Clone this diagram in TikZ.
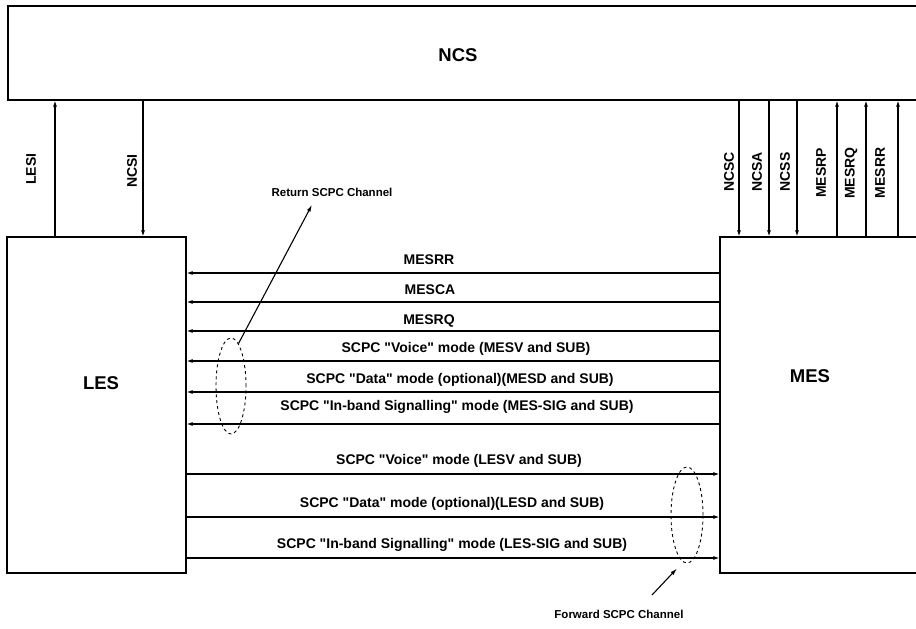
\documentclass[tikz,border=0pt]{standalone}
\usepackage{fontspec}
\setmainfont{Liberation Sans}
\usetikzlibrary{arrows.meta,shapes.geometric}
\tikzset{
  unitbox/.style={draw=black,line width=1.2pt,inner sep=0pt},
  unitname/.style={font=\bfseries\fontsize{18.5}{20}\selectfont},
  sigline/.style={-{Latex[length=6pt,width=4pt]},line width=1.1pt},
  siglabel/.style={anchor=base,inner sep=0pt,font=\bfseries\fontsize{14}{16}\selectfont},
  vlabel/.style={rotate=90,inner sep=0pt,font=\bfseries\fontsize{14}{16}\selectfont},
  chanring/.style={ellipse,draw,dashed,line width=0.9pt,inner sep=0pt},
  chanlabel/.style={font=\bfseries\fontsize{11.5}{14}\selectfont},
  pointer/.style={-{Latex[length=7pt,width=4pt]},line width=1.1pt}
}

\begin{document}
\begin{tikzpicture}[x=1pt,y=-1pt]
  \useasboundingbox (0,0) rectangle (916,629);
  % stations
  \node[unitbox,minimum width=932pt,minimum height=94pt] (NCS) at (474,53) {};
  \node[unitbox,minimum width=179pt,minimum height=336pt] (LES) at (96.5,405) {};
  \node[unitbox,minimum width=220pt,minimum height=336pt] (MES) at (830,405) {};
  \node[unitname] (NCSname) at (458,55) {NCS};
  \node[unitname] (LESname) at (101,383) {LES};
  \node[unitname] (MESname) at (810,376) {MES};
  % links to the NCS
  \draw[sigline] (LES.north -| 55,0) -- (NCS.south -| 55,0)
    node[vlabel] (labLESI) at (31,169) {LESI};
  \draw[sigline] (NCS.south -| 143,0) -- (LES.north -| 143,0)
    node[vlabel] (labNCSI) at (132,171) {NCSI};
  \foreach \x/\lx/\name in {739/729/NCSC,769/757/NCSA,797/785/NCSS}
    \draw[sigline] (NCS.south -| \x,0) -- (MES.north -| \x,0)
      node[vlabel] (lab\name) at (\lx,172) {\name};
  \foreach \x/\lx/\name in {837/821/MESRP,866/851/MESRQ,898/880/MESRR}
    \draw[sigline] (MES.north -| \x,0) -- (NCS.south -| \x,0)
      node[vlabel] (lab\name) at (\lx,173) {\name};
  % return channels
  \foreach \y/\lx/\ly/\txt in {273/429/264/MESRR,302/430/294/MESCA,331/429/324/MESRQ,
      361/466/352/SCPC \textquotedbl Voice\textquotedbl{} mode (MESV and SUB),
      392/460/383/SCPC \textquotedbl Data\textquotedbl{} mode (optional)(MESD and SUB),
      424/457/410/SCPC \textquotedbl In-band Signalling\textquotedbl{} mode (MES-SIG and SUB)}
    \draw[sigline] (MES.west |- 0,\y) -- (LES.east |- 0,\y)
      node[siglabel] at (\lx,\ly) {\txt};
  % forward channels
  \foreach \y/\lx/\ly/\txt in {474/459/464/SCPC \textquotedbl Voice\textquotedbl{} mode (LESV and SUB),
      517/452/507/SCPC \textquotedbl Data\textquotedbl{} mode (optional)(LESD and SUB),
      558/452/548/SCPC \textquotedbl In-band Signalling\textquotedbl{} mode (LES-SIG and SUB)}
    \draw[sigline] (LES.east |- 0,\y) -- (MES.west |- 0,\y)
      node[siglabel] at (\lx,\ly) {\txt};
  % channel groups
  \node[chanring,minimum width=30pt,minimum height=96pt] (retch) at (231,386) {};
  \node[chanring,minimum width=32pt,minimum height=96pt] (fwdch) at (687,515) {};
  \node[chanlabel] (retlab) at (332,192) {Return SCPC Channel};
  \node[chanlabel] (fwdlab) at (619,614) {Forward SCPC Channel};
  \coordinate (rettip) at ([xshift=-20pt,yshift=-5pt]retlab.south);
  \coordinate (fwdtail) at (652,595);
  \coordinate (fwdtip) at ([xshift=-10pt,yshift=-5pt]fwdch.south);
  \draw[pointer] (retch.80) -- (rettip);
  \draw[pointer] (fwdtail) -- (fwdtip);
\end{tikzpicture}
\end{document}
